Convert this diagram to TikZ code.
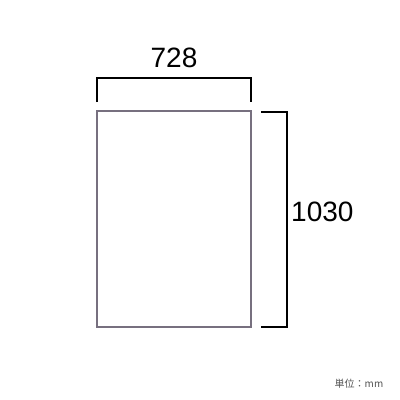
\documentclass[tikz,border=0pt]{standalone}
\usepackage{fontspec}
\setmainfont{Liberation Sans}
\newfontfamily\jpfont{Noto Sans CJK JP}
\definecolor{sheet}{HTML}{77707F}
\definecolor{unitgray}{HTML}{555555}
\begin{document}
\begin{tikzpicture}[x=1pt,y=-1pt,
  dim/.style={draw=black,line width=1.6pt},
  lbl/.style={font=\fontsize{28}{30}\selectfont,inner sep=0pt}]
\useasboundingbox (0,0) rectangle (400,400);
\fill[white] (0,0) rectangle (400,400);
\draw[draw=sheet,line width=1.6pt] (97,111) rectangle (251,327);
\coordinate (t1) at (97,102);
\coordinate (t2) at (97,78);
\coordinate (t3) at (251,78);
\coordinate (t4) at (251,102);
\draw[dim] (t1) -- (t2) -- (t3) -- (t4);
\coordinate (r1) at (261,112);
\coordinate (r2) at (287,112);
\coordinate (r3) at (287,327);
\coordinate (r4) at (261,327);
\draw[dim] (r1) -- (r2) -- (r3) -- (r4);
\node[lbl] (w) at (174,58) {728};
\node[lbl,anchor=west] (h) at (291,212) {1030};
\node[inner sep=0pt,text=unitgray,font=\jpfont\fontsize{10}{12}\selectfont] (u) at (359,384) {単位：mm};
\end{tikzpicture}
\end{document}
